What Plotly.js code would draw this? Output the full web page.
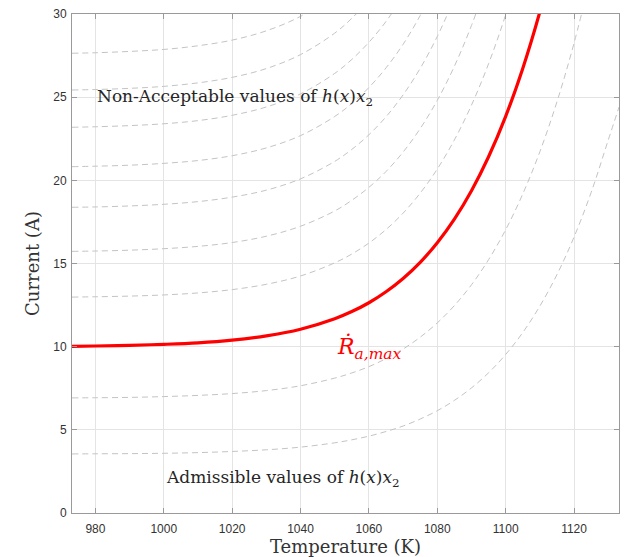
<!DOCTYPE html>
<html>
<head>
<meta charset="utf-8">
<script src="https://cdn.plot.ly/plotly-3.0.1.min.js"></script>
<style>html,body{margin:0;padding:0;background:#fff;}#chart{width:628px;height:557px;}</style>
</head>
<body>
<div id="chart"></div>
<script>
// Temperature grid (K)
const temps = [973.15, 980, 990, 1000, 1010, 1020, 1030, 1040, 1050, 1055, 1060, 1065, 1070, 1075, 1080, 1085, 1090, 1095, 1100, 1105, 1110, 1115, 1120, 1125, 1130, 1133.15];

// Dashed level curves of h(x)x2 (current, A), top to bottom
const level1 = [27.64, 27.67, 27.75, 27.87, 28.09, 28.43, 28.99, 29.86, 31.22];
const level2 = [25.43, 25.46, 25.53, 25.65, 25.86, 26.19, 26.72, 27.56, 28.85, 29.74, 30.82];
const level3 = [23.19, 23.22, 23.29, 23.40, 23.59, 23.91, 24.41, 25.20, 26.43, 27.27, 28.30, 29.55, 31.07];
const level4 = [20.82, 20.85, 20.91, 21.02, 21.19, 21.48, 21.95, 22.69, 23.84, 24.62, 25.58, 26.76, 28.18, 29.91, 31.98];
const level5 = [18.38, 18.40, 18.46, 18.56, 18.72, 18.99, 19.41, 20.09, 21.14, 21.86, 22.74, 23.82, 25.14, 26.73, 28.65, 30.94];
const level6 = [15.73, 15.75, 15.80, 15.89, 16.03, 16.26, 16.64, 17.24, 18.16, 18.80, 19.58, 20.53, 21.70, 23.11, 24.81, 26.86, 29.31, 32.21];
const level7 = [12.98, 13.00, 13.04, 13.11, 13.23, 13.43, 13.75, 14.25, 15.04, 15.57, 16.23, 17.04, 18.03, 19.23, 20.68, 22.43, 24.52, 27.01, 29.96, 33.46];
const level8 = [6.92, 6.93, 6.95, 7.00, 7.07, 7.18, 7.36, 7.65, 8.11, 8.42, 8.80, 9.28, 9.86, 10.57, 11.43, 12.47, 13.72, 15.23, 17.03, 19.18, 21.72, 24.72, 28.25, 32.37];
const level9 = [3.55, 3.56, 3.57, 3.59, 3.63, 3.70, 3.80, 3.96, 4.22, 4.40, 4.62, 4.90, 5.23, 5.65, 6.15, 6.77, 7.52, 8.43, 9.53, 10.85, 12.44, 14.33, 16.59, 19.27, 22.42, 24.40];

// Red curve: R_dot_a,max
const rMax = [10.02, 10.04, 10.08, 10.14, 10.23, 10.39, 10.65, 11.05, 11.68, 12.11, 12.64, 13.30, 14.10, 15.07, 16.25, 17.67, 19.38, 21.42, 23.85, 26.73, 30.13, 34.12];

const xTicks = [980, 1000, 1020, 1040, 1060, 1080, 1100, 1120];
const yTicks = [0, 5, 10, 15, 20, 25, 30];

const levels = [level1, level2, level3, level4, level5, level6, level7, level8, level9];
const traces = levels.map(v => ({
  x: temps.slice(0, v.length), y: v, type: 'scatter', mode: 'lines',
  line: {color: '#c4c4c4', width: 1, dash: '6px,4px', shape: 'spline'},
  hoverinfo: 'skip', showlegend: false
}));
traces.push({
  x: temps.slice(0, rMax.length), y: rMax, type: 'scatter', mode: 'lines',
  line: {color: '#ff0000', width: 3.2, shape: 'spline'}, showlegend: false
});

const serif = 'DejaVu Serif, Liberation Serif, serif';
const axisCommon = {
  showline: true, linecolor: '#9a9a9a', linewidth: 1, mirror: 'ticks',
  ticks: 'inside', ticklen: 5, tickcolor: '#9a9a9a', tickwidth: 1,
  showgrid: true, gridcolor: '#e4e4e4', gridwidth: 1, zeroline: false,
  tickfont: {family: 'Liberation Sans, Arial, sans-serif', size: 12, color: '#333333'}
};

const layout = {
  width: 628, height: 557,
  margin: {l: 72, r: 9, t: 14, b: 44},
  paper_bgcolor: '#ffffff', plot_bgcolor: '#ffffff',
  xaxis: Object.assign({}, axisCommon, {
    range: [973.15, 1133.15], tickvals: xTicks, ticktext: xTicks.map(String),
    ticklabelstandoff: 5,
    title: {text: 'Temperature (K)', font: {family: serif, size: 18, color: '#333333'}, standoff: 3}
  }),
  yaxis: Object.assign({}, axisCommon, {
    range: [0, 30], tickvals: yTicks, ticktext: yTicks.map(String),
    ticklabelstandoff: 2,
    title: {text: 'Current (A)', font: {family: serif, size: 18, color: '#333333'}, standoff: 8}
  }),
  annotations: [
    {x: 980, y: 25, xref: 'x', yref: 'y', xanchor: 'left', yanchor: 'middle', showarrow: false,
     text: 'Non-Acceptable values of <i>h</i>(<i>x</i>)<i>x</i><sub>2</sub>',
     font: {family: serif, size: 17, color: '#262626'}},
    {x: 1000, y: 2.1, xref: 'x', yref: 'y', xanchor: 'left', yanchor: 'middle', showarrow: false,
     text: 'Admissible values of <i>h</i>(<i>x</i>)<i>x</i><sub>2</sub>',
     font: {family: serif, size: 17, color: '#262626'}},
    {x: 1050, y: 9.9, xref: 'x', yref: 'y', xanchor: 'left', yanchor: 'middle', showarrow: false,
     text: '<i>Ṙ</i><sub><i>a,max</i></sub>',
     font: {family: serif, size: 22, color: '#ff0000'}}
  ]
};

Plotly.newPlot('chart', traces, layout, {staticPlot: true, displayModeBar: false});
</script>
</body>
</html>
